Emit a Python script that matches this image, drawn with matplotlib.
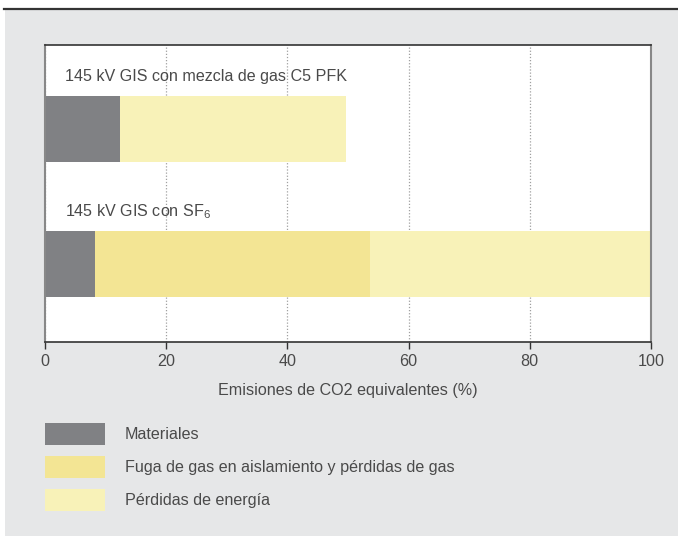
import matplotlib.pyplot as plt
from matplotlib.patches import Patch, Rectangle
from matplotlib.lines import Line2D

plt.rcParams['font.family'] = ['Liberation Sans', 'DejaVu Sans']
plt.rcParams['mathtext.fontset'] = 'custom'
plt.rcParams['mathtext.rm'] = 'Liberation Sans'

# data
configs = ["145 kV GIS con mezcla de gas C5 PFK", "145 kV GIS con $\\mathregular{SF_6}$"]
categories = ["Materiales", "Fuga de gas en aislamiento y pérdidas de gas", "Pérdidas de energía"]
materiales = [12.4, 8.3]
fuga_gas = [0.0, 45.4]
perdidas_energia = [37.2, 46.3]
xticks = [0, 20, 40, 60, 80, 100]
xlabel = "Emisiones de CO2 equivalentes (%)"

colors = ["#808184", "#f3e594", "#f8f2b8"]
text_color = "#4a4a4a"
fsize = 11.6

W, H = 678, 538
fig = plt.figure(figsize=(W / 100, H / 100), dpi=100, facecolor="white")

# grey panel and top rule
fig.patches.append(Rectangle((5 / W, 2 / H), 1 - 5 / W, 1 - 12 / H,
                             transform=fig.transFigure, facecolor="#e6e7e8",
                             edgecolor="none", zorder=-10))
fig.lines.append(Line2D([4 / W, 1], [1 - 9 / H, 1 - 9 / H], transform=fig.transFigure,
                        color="#333333", lw=1.6))

ax = fig.add_axes([45 / W, 1 - 342 / H, 606 / W, 297 / H])
ax.set_facecolor("white")

ypos = [0, 1]
h = 0.489
left = [0, 0]
for vals, c, lab in zip([materiales, fuga_gas, perdidas_energia], colors, categories):
    ax.barh(ypos, vals, left=left, height=h, color=c, label=lab, zorder=2)
    left = [a + b for a, b in zip(left, vals)]

for y, name in zip(ypos, configs):
    ax.text(3.3, y - 0.39, name, fontsize=fsize, color=text_color, va="center", ha="left", zorder=3)

ax.set_xlim(0, 100)
ax.set_ylim(1.578, -0.622)
ax.set_yticks([])
ax.set_xticks(xticks)
ax.tick_params(axis="x", direction="out", length=5, width=1, color="#333333",
               labelsize=fsize, labelcolor=text_color, pad=4)
ax.xaxis.grid(True, linestyle=(0, (1, 1.5)), color="#a0a0a0", lw=0.9, zorder=1)
ax.set_axisbelow(True)
ax.set_xlabel(xlabel, fontsize=fsize, color=text_color, labelpad=10)

for s in ["top", "bottom"]:
    ax.spines[s].set_color("#333333")
    ax.spines[s].set_linewidth(1.2)
for s in ["left", "right"]:
    ax.spines[s].set_color("#888888")
    ax.spines[s].set_linewidth(1.5)

fs = fsize * 100 / 72
hh = (22 / fs - 0.245) / 0.65
handles = [Patch(facecolor=c, edgecolor="none") for c in colors]
leg = fig.legend(handles, categories, loc="upper left", bbox_to_anchor=(45 / W, 1 - 423 / H),
                 frameon=False, fontsize=fsize, borderpad=0, borderaxespad=0,
                 handlelength=60 / fs, handleheight=hh, labelspacing=11 / fs,
                 handletextpad=20 / fs)
for t in leg.get_texts():
    t.set_color(text_color)

fig.savefig("out.png", dpi=100)
